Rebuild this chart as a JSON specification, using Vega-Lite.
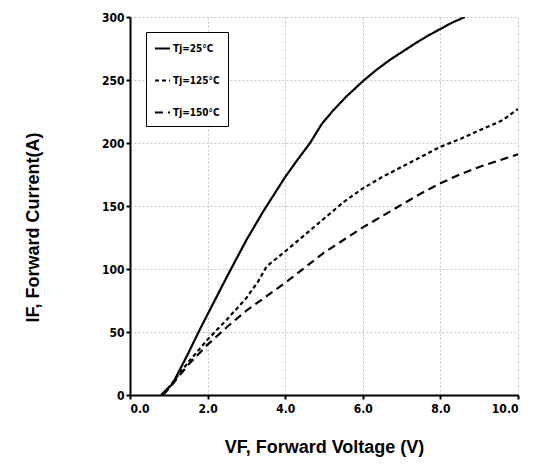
{
  "$schema": "https://vega.github.io/schema/vega-lite/v6.json",
  "width": 388,
  "height": 378,
  "autosize": "none",
  "padding": {"left": 130, "top": 17, "right": 16, "bottom": 70},
  "background": "white",
  "config": {
    "view": {"stroke": null},
    "font": "Liberation Sans"
  },
  "data": {
    "values": [
      {"voltage": 0.8, "current": 0, "s": "Tj=25°C"},
      {"voltage": 1.1, "current": 9, "s": "Tj=25°C"},
      {"voltage": 1.5, "current": 33, "s": "Tj=25°C"},
      {"voltage": 1.8, "current": 52, "s": "Tj=25°C"},
      {"voltage": 2.0, "current": 64, "s": "Tj=25°C"},
      {"voltage": 2.5, "current": 94, "s": "Tj=25°C"},
      {"voltage": 3.0, "current": 123, "s": "Tj=25°C"},
      {"voltage": 3.44, "current": 146, "s": "Tj=25°C"},
      {"voltage": 4.0, "current": 173, "s": "Tj=25°C"},
      {"voltage": 4.3, "current": 186, "s": "Tj=25°C"},
      {"voltage": 4.64, "current": 200, "s": "Tj=25°C"},
      {"voltage": 4.8, "current": 208, "s": "Tj=25°C"},
      {"voltage": 4.94, "current": 215, "s": "Tj=25°C"},
      {"voltage": 5.24, "current": 226, "s": "Tj=25°C"},
      {"voltage": 5.58, "current": 237, "s": "Tj=25°C"},
      {"voltage": 6.0, "current": 249, "s": "Tj=25°C"},
      {"voltage": 6.35, "current": 258, "s": "Tj=25°C"},
      {"voltage": 6.7, "current": 266, "s": "Tj=25°C"},
      {"voltage": 7.0, "current": 272, "s": "Tj=25°C"},
      {"voltage": 7.4, "current": 280, "s": "Tj=25°C"},
      {"voltage": 7.7, "current": 285.5, "s": "Tj=25°C"},
      {"voltage": 8.0, "current": 290.5, "s": "Tj=25°C"},
      {"voltage": 8.3, "current": 295.5, "s": "Tj=25°C"},
      {"voltage": 8.63, "current": 300, "s": "Tj=25°C"},
      {"voltage": 0.85, "current": 0, "s": "Tj=125°C"},
      {"voltage": 1.0, "current": 6, "s": "Tj=125°C"},
      {"voltage": 1.5, "current": 26, "s": "Tj=125°C"},
      {"voltage": 2.0, "current": 44, "s": "Tj=125°C"},
      {"voltage": 2.5, "current": 60, "s": "Tj=125°C"},
      {"voltage": 3.0, "current": 77, "s": "Tj=125°C"},
      {"voltage": 3.3, "current": 90, "s": "Tj=125°C"},
      {"voltage": 3.52, "current": 102, "s": "Tj=125°C"},
      {"voltage": 4.0, "current": 114, "s": "Tj=125°C"},
      {"voltage": 4.5, "current": 127, "s": "Tj=125°C"},
      {"voltage": 5.0, "current": 140, "s": "Tj=125°C"},
      {"voltage": 5.5, "current": 153, "s": "Tj=125°C"},
      {"voltage": 6.0, "current": 164, "s": "Tj=125°C"},
      {"voltage": 6.5, "current": 173, "s": "Tj=125°C"},
      {"voltage": 7.0, "current": 181, "s": "Tj=125°C"},
      {"voltage": 7.5, "current": 189, "s": "Tj=125°C"},
      {"voltage": 8.0, "current": 197, "s": "Tj=125°C"},
      {"voltage": 8.5, "current": 203, "s": "Tj=125°C"},
      {"voltage": 9.0, "current": 210, "s": "Tj=125°C"},
      {"voltage": 9.6, "current": 218, "s": "Tj=125°C"},
      {"voltage": 10.0, "current": 227, "s": "Tj=125°C"},
      {"voltage": 0.85, "current": 0, "s": "Tj=150°C"},
      {"voltage": 1.0, "current": 5, "s": "Tj=150°C"},
      {"voltage": 1.5, "current": 24, "s": "Tj=150°C"},
      {"voltage": 2.0, "current": 40, "s": "Tj=150°C"},
      {"voltage": 2.5, "current": 54, "s": "Tj=150°C"},
      {"voltage": 3.0, "current": 67, "s": "Tj=150°C"},
      {"voltage": 3.5, "current": 78, "s": "Tj=150°C"},
      {"voltage": 4.0, "current": 89, "s": "Tj=150°C"},
      {"voltage": 4.5, "current": 101, "s": "Tj=150°C"},
      {"voltage": 5.0, "current": 113, "s": "Tj=150°C"},
      {"voltage": 5.5, "current": 123, "s": "Tj=150°C"},
      {"voltage": 6.0, "current": 133, "s": "Tj=150°C"},
      {"voltage": 6.5, "current": 142, "s": "Tj=150°C"},
      {"voltage": 7.0, "current": 151, "s": "Tj=150°C"},
      {"voltage": 7.5, "current": 160, "s": "Tj=150°C"},
      {"voltage": 8.0, "current": 168, "s": "Tj=150°C"},
      {"voltage": 8.5, "current": 175, "s": "Tj=150°C"},
      {"voltage": 9.0, "current": 181, "s": "Tj=150°C"},
      {"voltage": 9.5, "current": 186, "s": "Tj=150°C"},
      {"voltage": 10.0, "current": 191, "s": "Tj=150°C"}
    ]
  },
  "mark": {"type": "line", "color": "black", "strokeWidth": 2.2, "clip": true},
  "encoding": {
    "x": {
      "field": "voltage",
      "type": "quantitative",
      "scale": {"domain": [0, 10], "nice": false},
      "axis": {
        "values": [0, 2, 4, 6, 8, 10],
        "format": ".1f",
        "title": "VF, Forward Voltage (V)",
        "titleFont": "Liberation Sans",
        "titleFontSize": 18,
        "titleFontWeight": "bold",
        "titleColor": "black",
        "titleY": 52,
        "titleBaseline": "middle",
        "labelFont": "DejaVu Sans Condensed",
        "labelFontSize": 12,
        "labelFontWeight": "bold",
        "labelColor": "black",
        "labelPadding": 4,
        "domainColor": "black",
        "domainWidth": 2,
        "tickColor": "black",
        "tickWidth": 2,
        "tickSize": 4,
        "grid": true,
        "gridColor": "#c4c4c4",
        "gridDash": [2, 2],
        "gridWidth": 1
      }
    },
    "y": {
      "field": "current",
      "type": "quantitative",
      "scale": {"domain": [0, 300], "nice": false},
      "axis": {
        "values": [0, 50, 100, 150, 200, 250, 300],
        "title": "IF, Forward Current(A)",
        "titleFont": "Liberation Sans",
        "titleFontSize": 18,
        "titleFontWeight": "bold",
        "titleColor": "black",
        "titleX": -97,
        "titleY": 210,
        "titleAngle": -90,
        "titleAlign": "center",
        "titleBaseline": "middle",
        "labelFont": "DejaVu Sans Condensed",
        "labelFontSize": 12,
        "labelFontWeight": "bold",
        "labelColor": "black",
        "labelPadding": 2,
        "domainColor": "black",
        "domainWidth": 2,
        "tickColor": "black",
        "tickWidth": 2,
        "tickSize": 4,
        "grid": true,
        "gridColor": "#c4c4c4",
        "gridDash": [2, 2],
        "gridWidth": 1
      }
    },
    "strokeDash": {
      "field": "s",
      "type": "nominal",
      "sort": ["Tj=25°C", "Tj=125°C", "Tj=150°C"],
      "scale": {
        "domain": ["Tj=25°C", "Tj=125°C", "Tj=150°C"],
        "range": [[1, 0], [4, 3], [8, 5]]
      },
      "legend": {
        "title": null,
        "orient": "none",
        "legendX": 16,
        "legendY": 15,
        "strokeColor": "black",
        "fillColor": "white",
        "padding": 8,
        "rowPadding": 18,
        "symbolType": "stroke",
        "symbolSize": 225,
        "symbolStrokeColor": "black",
        "symbolStrokeWidth": 2,
        "labelFont": "DejaVu Sans Condensed",
        "labelFontSize": 10,
        "labelFontWeight": "bold",
        "labelColor": "black",
        "labelOffset": 2
      }
    }
  }
}
